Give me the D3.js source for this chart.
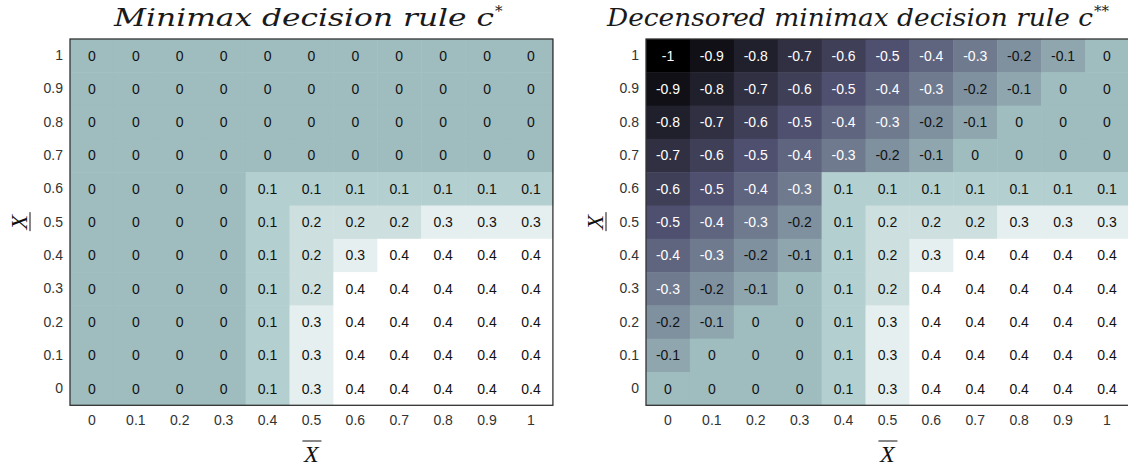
<!DOCTYPE html>
<html>
<head>
<meta charset="utf-8">
<script src="https://cdn.jsdelivr.net/npm/d3@7"></script>
<style>
  body { margin: 0; background: #fff; }
  svg { display: block; }
  .tick text { font-family: "Liberation Sans", Arial, sans-serif; font-size: 14px; fill: #333; }
  .cell-label { font-family: "Liberation Sans", Arial, sans-serif; font-size: 14px; }
  .title { font-family: "DejaVu Serif", serif; font-style: italic; fill: #1a1a1a; }
  .axis-label { font-family: "Liberation Serif", "DejaVu Serif", serif; font-style: italic; fill: #111; }
</style>
</head>
<body>
<script>
// tick labels: X-bar along the bottom, X-underline down the side (top row = 1)
const xCategories = ["0", "0.1", "0.2", "0.3", "0.4", "0.5", "0.6", "0.7", "0.8", "0.9", "1"];
const yCategories = ["1", "0.9", "0.8", "0.7", "0.6", "0.5", "0.4", "0.3", "0.2", "0.1", "0"];

// minimax decision rule c*, rows top to bottom
const minimaxValues = [
  [0, 0, 0, 0, 0, 0, 0, 0, 0, 0, 0],
  [0, 0, 0, 0, 0, 0, 0, 0, 0, 0, 0],
  [0, 0, 0, 0, 0, 0, 0, 0, 0, 0, 0],
  [0, 0, 0, 0, 0, 0, 0, 0, 0, 0, 0],
  [0, 0, 0, 0, 0.1, 0.1, 0.1, 0.1, 0.1, 0.1, 0.1],
  [0, 0, 0, 0, 0.1, 0.2, 0.2, 0.2, 0.3, 0.3, 0.3],
  [0, 0, 0, 0, 0.1, 0.2, 0.3, 0.4, 0.4, 0.4, 0.4],
  [0, 0, 0, 0, 0.1, 0.2, 0.4, 0.4, 0.4, 0.4, 0.4],
  [0, 0, 0, 0, 0.1, 0.3, 0.4, 0.4, 0.4, 0.4, 0.4],
  [0, 0, 0, 0, 0.1, 0.3, 0.4, 0.4, 0.4, 0.4, 0.4],
  [0, 0, 0, 0, 0.1, 0.3, 0.4, 0.4, 0.4, 0.4, 0.4]
];

// decensored minimax decision rule c**
const decensoredValues = [
  [-1, -0.9, -0.8, -0.7, -0.6, -0.5, -0.4, -0.3, -0.2, -0.1, 0],
  [-0.9, -0.8, -0.7, -0.6, -0.5, -0.4, -0.3, -0.2, -0.1, 0, 0],
  [-0.8, -0.7, -0.6, -0.5, -0.4, -0.3, -0.2, -0.1, 0, 0, 0],
  [-0.7, -0.6, -0.5, -0.4, -0.3, -0.2, -0.1, 0, 0, 0, 0],
  [-0.6, -0.5, -0.4, -0.3, 0.1, 0.1, 0.1, 0.1, 0.1, 0.1, 0.1],
  [-0.5, -0.4, -0.3, -0.2, 0.1, 0.2, 0.2, 0.2, 0.3, 0.3, 0.3],
  [-0.4, -0.3, -0.2, -0.1, 0.1, 0.2, 0.3, 0.4, 0.4, 0.4, 0.4],
  [-0.3, -0.2, -0.1, 0, 0.1, 0.2, 0.4, 0.4, 0.4, 0.4, 0.4],
  [-0.2, -0.1, 0, 0, 0.1, 0.3, 0.4, 0.4, 0.4, 0.4, 0.4],
  [-0.1, 0, 0, 0, 0.1, 0.3, 0.4, 0.4, 0.4, 0.4, 0.4],
  [0, 0, 0, 0, 0.1, 0.3, 0.4, 0.4, 0.4, 0.4, 0.4]
];

const width = 1128, height = 472;
const cellW = 43.9, cellH = 33.3;
const plotTop = 39;

// matplotlib "bone" is piecewise linear in rgb with knots at 0.365 and 0.746,
// shared colour range -1 .. 0.4 for both panels
const boneT = d3.scaleLinear()
  .domain([0, 0.365079, 0.746032, 1])
  .range(["rgb(0,0,0)", "rgb(81,81,113)", "rgb(166,198,198)", "rgb(255,255,255)"])
  .interpolate(d3.interpolateRgb);
const norm = d3.scaleLinear().domain([-1, 0.4]).range([0, 1]).clamp(true);
const color = v => boneT(norm(v));

const svg = d3.select("body").append("svg")
  .attr("width", width)
  .attr("height", height);

function drawPanel(left, values, opts) {
  const x = d3.scaleBand().domain(xCategories).range([left, left + 11 * cellW]);
  const y = d3.scaleBand().domain(yCategories).range([plotTop, plotTop + 11 * cellH]);
  const g = svg.append("g");

  const cells = values.flatMap((row, i) =>
    row.map((v, j) => ({ v, xk: xCategories[j], yk: yCategories[i] })));

  g.selectAll("rect.cell")
    .data(cells)
    .enter()
    .append("rect")
    .attr("class", "cell")
    .attr("x", d => x(d.xk))
    .attr("y", d => y(d.yk))
    .attr("width", x.bandwidth() + 0.5)
    .attr("height", y.bandwidth() + 0.5)
    .attr("fill", d => color(d.v));

  // annotations use a plain hyphen, as in the original
  g.selectAll("text.cell-label")
    .data(cells)
    .enter()
    .append("text")
    .attr("class", "cell-label")
    .attr("x", d => x(d.xk) + x.bandwidth() / 2)
    .attr("y", d => y(d.yk) + y.bandwidth() / 2)
    .attr("dy", "0.35em")
    .attr("text-anchor", "middle")
    .attr("fill", d => (d.v <= -0.3 ? "#fff" : "#111"))
    .text(d => String(d.v));

  // frame around the heatmap
  g.append("rect")
    .attr("x", left)
    .attr("y", plotTop)
    .attr("width", 11 * cellW)
    .attr("height", 11 * cellH)
    .attr("fill", "none")
    .attr("stroke", "#333")
    .attr("stroke-width", 1.3);

  const bottom = plotTop + 11 * cellH;
  g.append("g")
    .attr("transform", `translate(0,${bottom})`)
    .call(d3.axisBottom(x).tickSize(0).tickPadding(10))
    .call(a => a.select(".domain").remove());

  g.append("g")
    .attr("transform", `translate(${left},0)`)
    .call(d3.axisLeft(y).tickSize(0).tickPadding(7))
    .call(a => a.select(".domain").remove());

  // title with superscript stars; stretched a little to match the LaTeX math italic
  const title = g.append("text")
    .attr("class", "title")
    .attr("x", opts.titleX)
    .attr("y", 26)
    .attr("font-size", 24);
  title.append("tspan")
    .attr("textLength", opts.titleLen)
    .attr("lengthAdjust", "spacingAndGlyphs")
    .text(opts.title);
  title.append("tspan")
    .attr("font-size", 15)
    .attr("dx", 1)
    .attr("dy", -10)
    .text(opts.stars);

  // x label: X with overline
  const cx = left + 11 * cellW / 2;
  g.append("text")
    .attr("class", "axis-label")
    .attr("x", cx)
    .attr("y", 462)
    .attr("font-size", 24)
    .attr("text-anchor", "middle")
    .text("X");
  g.append("line")
    .attr("x1", cx - 9).attr("x2", cx + 10)
    .attr("y1", 441).attr("y2", 441)
    .attr("stroke", "#111").attr("stroke-width", 1);

  // y label: X with underline, rotated
  const cy = plotTop + 5.5 * cellH;
  g.append("text")
    .attr("class", "axis-label")
    .attr("transform", `translate(${opts.yLabelX},${cy}) rotate(-90)`)
    .attr("font-size", 24)
    .attr("text-anchor", "middle")
    .text("X");
  g.append("line")
    .attr("x1", opts.yLabelX + 3).attr("x2", opts.yLabelX + 3)
    .attr("y1", cy - 10).attr("y2", cy + 9)
    .attr("stroke", "#111").attr("stroke-width", 1);
}

drawPanel(70, minimaxValues, {
  title: "Minimax decision rule c", stars: "*", titleX: 114, titleLen: 380, yLabelX: 27
});
drawPanel(646, decensoredValues, {
  title: "Decensored minimax decision rule c", stars: "**", titleX: 607, titleLen: 486, yLabelX: 603
});
</script>
</body>
</html>
